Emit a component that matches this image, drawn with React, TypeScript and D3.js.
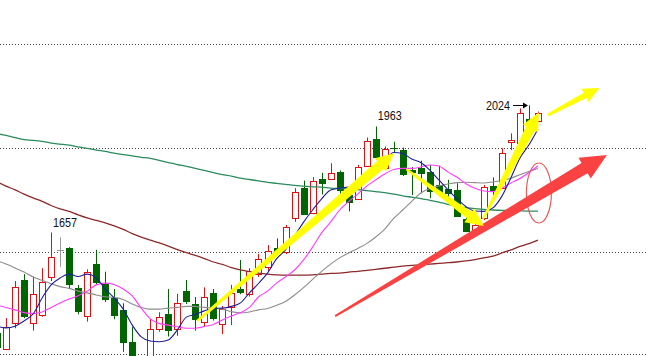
import React, { useEffect } from 'react';
import * as d3 from 'd3';

const W = 646;
const H = 356;

// daily candles, index 0..60 (left to right)
const opens = [1366, 1320, 1395, 1520, 1397, 1419, 1528, 1608, 1613, 1496, 1417, 1566, 1509, 1467, 1434, 1341, 1288, 1284, 1378, 1421, 1378, 1488, 1451, 1398, 1482, 1393, 1443, 1493, 1480, 1537, 1558, 1613, 1601, 1698, 1786, 1712, 1811, 1811, 1832, 1765, 1753, 1849, 1927, 1842, 1902, 1895, 1838, 1842, 1831, 1794, 1782, 1780, 1696, 1659, 1698, 1791, 1785, 1917, 1914, 1984, 1980];
const highs = [1370, 1410, 1517, 1537, 1530, 1554, 1657, 1643, 1615, 1506, 1551, 1607, 1544, 1494, 1453, 1385, 1294, 1408, 1427, 1494, 1480, 1520, 1471, 1499, 1494, 1445, 1506, 1578, 1554, 1595, 1621, 1640, 1679, 1785, 1807, 1817, 1829, 1857, 1836, 1791, 1852, 1931, 1963, 1905, 1919, 1902, 1846, 1864, 1852, 1850, 1809, 1799, 1712, 1688, 1794, 1816, 1900, 1943, 2015, 2024, 2006];
const lows = [1318, 1318, 1381, 1410, 1374, 1414, 1517, 1558, 1494, 1421, 1400, 1506, 1457, 1407, 1313, 1272, 1262, 1275, 1371, 1357, 1359, 1451, 1374, 1387, 1403, 1364, 1390, 1479, 1472, 1529, 1544, 1592, 1595, 1688, 1708, 1710, 1767, 1811, 1762, 1718, 1751, 1847, 1866, 1840, 1888, 1820, 1765, 1770, 1756, 1762, 1758, 1702, 1658, 1653, 1693, 1760, 1784, 1895, 1912, 1970, 1980];
const closes = [1323, 1385, 1501, 1414, 1480, 1514, 1586, 1608, 1506, 1429, 1544, 1512, 1462, 1417, 1339, 1284, 1276, 1379, 1412, 1374, 1453, 1457, 1405, 1472, 1408, 1436, 1482, 1483, 1547, 1581, 1604, 1602, 1672, 1775, 1709, 1807, 1796, 1828, 1777, 1741, 1845, 1921, 1871, 1897, 1897, 1823, 1828, 1826, 1775, 1770, 1767, 1703, 1659, 1679, 1787, 1774, 1886, 1924, 2001, 1968, 2001];

// moving averages
const ma5 = [1387, 1382, 1387, 1402, 1422, 1468, 1506, 1526, 1537, 1530, 1537, 1527, 1494, 1468, 1436, 1390, 1356, 1344, 1342, 1347, 1376, 1413, 1421, 1431, 1438, 1439, 1444, 1454, 1483, 1510, 1540, 1581, 1607, 1647, 1687, 1722, 1754, 1780, 1785, 1788, 1797, 1809, 1832, 1863, 1888, 1885, 1869, 1859, 1837, 1809, 1781, 1755, 1732, 1719, 1718, 1728, 1762, 1815, 1872, 1910, 1956];
const ma10 = [1447, 1441, 1434, 1426, 1423, 1428, 1441, 1454, 1465, 1475, 1488, 1506, 1511, 1507, 1494, 1474, 1439, 1408, 1395, 1390, 1385, 1381, 1381, 1386, 1392, 1405, 1416, 1426, 1441, 1471, 1488, 1511, 1529, 1549, 1578, 1615, 1656, 1687, 1722, 1746, 1768, 1791, 1809, 1826, 1839, 1842, 1842, 1846, 1852, 1849, 1832, 1817, 1798, 1785, 1777, 1775, 1785, 1800, 1813, 1830, 1849];
const ma20 = [1576, 1566, 1555, 1543, 1529, 1519, 1509, 1501, 1496, 1488, 1483, 1477, 1472, 1470, 1464, 1451, 1441, 1436, 1436, 1439, 1441, 1444, 1444, 1441, 1439, 1436, 1429, 1425, 1428, 1434, 1438, 1447, 1458, 1477, 1498, 1522, 1545, 1566, 1584, 1598, 1611, 1625, 1644, 1667, 1698, 1722, 1747, 1771, 1784, 1791, 1797, 1801, 1802, 1801, 1800, 1803, 1807, 1814, 1824, 1833, 1842];
const ma60 = [1943, 1937, 1931, 1925, 1923, 1920, 1915, 1912, 1909, 1904, 1900, 1895, 1891, 1886, 1882, 1878, 1874, 1871, 1865, 1859, 1853, 1848, 1842, 1836, 1830, 1824, 1820, 1814, 1810, 1806, 1802, 1799, 1796, 1793, 1791, 1789, 1788, 1785, 1784, 1783, 1781, 1778, 1775, 1772, 1768, 1763, 1759, 1755, 1750, 1745, 1738, 1733, 1729, 1726, 1724, 1722, 1721, 1721, 1720, 1719, 1719];
const ma120 = [1803, 1791, 1780, 1768, 1757, 1747, 1735, 1725, 1718, 1708, 1699, 1692, 1685, 1676, 1666, 1654, 1644, 1635, 1627, 1618, 1608, 1599, 1591, 1582, 1572, 1565, 1556, 1549, 1544, 1540, 1537, 1535, 1534, 1534, 1534, 1535, 1537, 1539, 1540, 1543, 1545, 1548, 1551, 1554, 1557, 1560, 1562, 1564, 1566, 1568, 1570, 1572, 1575, 1579, 1584, 1589, 1598, 1607, 1617, 1625, 1635];

const gridPrices = [1600, 1900, 2200];

// marked highs
const peakIdx = [6, 42];
const peakText = ['1657', '1963'];
const pointerIdx = 59;
const pointerText = '2024';

// hand-drawn arrows in (candle index, price)
const yellowArrowFrom = [[22.2, 1402], [45.4, 1840], [53.9, 1696], [61.1, 1996]];
const yellowArrowTo = [[44.05, 1886], [54.0, 1676], [60.1, 2003], [66.8, 2074]];
const redArrowFrom = [37.5, 1416];
const redArrowTo = [67.65, 1881];
const ellipseCenter = [60.1, 1771];

function arrowPath(x0: number, y0: number, x1: number, y1: number, wt: number, ws: number, wh: number, hl: number) {
  const dx = x1 - x0, dy = y1 - y0;
  const L = Math.hypot(dx, dy);
  const ux = dx / L, uy = dy / L;
  const px = -uy, py = ux;
  const bx = x1 - ux * hl, by = y1 - uy * hl;
  const pts = [
    [x0 + px * wt / 2, y0 + py * wt / 2],
    [bx + px * ws / 2, by + py * ws / 2],
    [bx + px * wh / 2, by + py * wh / 2],
    [x1, y1],
    [bx - px * wh / 2, by - py * wh / 2],
    [bx - px * ws / 2, by - py * ws / 2],
    [x0 - px * wt / 2, y0 - py * wt / 2],
  ];
  return 'M' + pts.map((p) => p[0].toFixed(2) + ',' + p[1].toFixed(2)).join('L') + 'Z';
}

const RED = '#e01010';
const GREEN = '#006400';

export default function App() {
  useEffect(() => {
    document.body.style.margin = '0';
  }, []);

  const x = d3.scaleLinear().domain([0, 60]).range([-3, 538]);
  const y = d3.scaleLinear().domain([1300, 2200]).range([356.3, 44.3]);

  const line = (vals: number[]) =>
    d3
      .line<number>()
      .x((_, i) => x(i))
      .y((v) => y(v))
      .curve(d3.curveMonotoneX)(vals) || '';

  const yellowStyle = [
    { wt: 2.5, ws: 10, wh: 17, hl: 18 },
    { wt: 2, ws: 8, wh: 17, hl: 18 },
    { wt: 2, ws: 10, wh: 17, hl: 18 },
    { wt: 3, ws: 6, wh: 15, hl: 16 },
  ];

  return (
    <svg width={W} height={H} style={{ display: 'block', background: '#fff' }} xmlns="http://www.w3.org/2000/svg">
      <rect x={0} y={0} width={W} height={H} fill="#fff" />
      {gridPrices.map((p) => (
        <line key={p} x1={0} x2={W} y1={Math.round(y(p)) + 0.5} y2={Math.round(y(p)) + 0.5} stroke="#444" strokeDasharray="1,2" strokeWidth={1} />
      ))}
      <line x1={0} x2={W} y1={354.5} y2={354.5} stroke="#444" strokeDasharray="1,2" strokeWidth={1} />

      {/* candles */}
      {opens.map((o, i) => {
        const c = closes[i];
        const hi = highs[i];
        const lo = lows[i];
        const cx = Math.round(x(i));
        const yh = y(hi), yl = y(lo);
        if (c === o) {
          const yc = Math.round(y(c)) + 0.5;
          return (
            <g key={i} stroke="#999" strokeWidth={1}>
              <line x1={cx + 0.5} x2={cx + 0.5} y1={yh} y2={yl} />
              <line x1={cx - 3} x2={cx + 4} y1={yc} y2={yc} />
            </g>
          );
        }
        if (c > o) {
          const top = Math.round(y(c)) + 0.5;
          const bot = Math.round(y(o)) + 0.5;
          return (
            <g key={i} stroke={RED} strokeWidth={1}>
              <line x1={cx + 0.5} x2={cx + 0.5} y1={yh} y2={top} />
              <line x1={cx + 0.5} x2={cx + 0.5} y1={bot} y2={yl} />
              <rect x={cx - 2.5} y={top} width={6} height={Math.max(1, bot - top)} fill="#fff" />
            </g>
          );
        }
        const top = Math.round(y(o));
        const bot = Math.round(y(c));
        return (
          <g key={i}>
            <line x1={cx + 0.5} x2={cx + 0.5} y1={yh} y2={yl} stroke={GREEN} strokeWidth={1} />
            <rect x={cx - 3} y={top} width={7} height={Math.max(1, bot - top)} fill={GREEN} />
          </g>
        );
      })}

      {/* moving averages */}
      <path d={line(ma120)} fill="none" stroke="#8c2a2a" strokeWidth={1.3} />
      <path d={line(ma60)} fill="none" stroke="#2a8c5c" strokeWidth={1.3} />
      <path d={line(ma20)} fill="none" stroke="#8c8c8c" strokeWidth={1.1} />
      <path d={line(ma10)} fill="none" stroke="#ff3cff" strokeWidth={1.1} />
      <path d={line(ma5)} fill="none" stroke="#1e1e96" strokeWidth={1.1} />

      {/* peak labels */}
      {peakIdx.map((pi, k) => (
        <text key={k} x={x(pi) + 2} y={y(highs[pi]) - 6} fontFamily="'Liberation Sans', Arial, sans-serif" fontSize={12.5} textLength={24} lengthAdjust="spacingAndGlyphs" fill="#111">
          {peakText[k]}
        </text>
      ))}
      <text x={x(pointerIdx) - 19} y={y(highs[pointerIdx]) + 4.5} textAnchor="end" fontFamily="'Liberation Sans', Arial, sans-serif" fontSize={12.5} textLength={24} lengthAdjust="spacingAndGlyphs" fill="#111">
        {pointerText}
      </text>
      <line x1={x(pointerIdx) - 16} x2={x(pointerIdx) - 5} y1={Math.round(y(highs[pointerIdx])) + 0.5} y2={Math.round(y(highs[pointerIdx])) + 0.5} stroke="#000" strokeWidth={1} />
      <path
        d={`M${x(pointerIdx) - 1},${Math.round(y(highs[pointerIdx])) + 0.5}L${x(pointerIdx) - 6},${Math.round(y(highs[pointerIdx])) - 2.5}L${x(pointerIdx) - 6},${Math.round(y(highs[pointerIdx])) + 3.5}Z`}
        fill="#000"
      />

      {/* red ellipse */}
      <ellipse cx={x(ellipseCenter[0])} cy={y(ellipseCenter[1])} rx={12.5} ry={30} fill="none" stroke="#e65a5a" strokeWidth={1.2} />

      {/* red arrow */}
      <path d={arrowPath(x(redArrowFrom[0]), y(redArrowFrom[1]), x(redArrowTo[0]), y(redArrowTo[1]), 2, 12, 24, 26)} fill="#fa4242" />

      {/* yellow arrows */}
      {yellowArrowFrom.map((f, k) => {
        const t = yellowArrowTo[k];
        const s = yellowStyle[k];
        return <path key={k} d={arrowPath(x(f[0]), y(f[1]), x(t[0]), y(t[1]), s.wt, s.ws, s.wh, s.hl)} fill="#ffff00" />;
      })}
    </svg>
  );
}
